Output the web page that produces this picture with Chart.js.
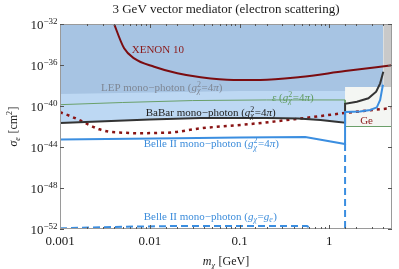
<!DOCTYPE html>
<html>
<head>
<meta charset="utf-8">
<script src="https://cdn.jsdelivr.net/npm/chart.js@4.4.1/dist/chart.umd.min.js"></script>
<style>
  html, body { margin: 0; padding: 0; background: #fff; }
  #wrap { width: 399px; height: 269px; }
</style>
</head>
<body>
<div id="wrap"><canvas id="c"></canvas></div>
<script>
// dark matter mass m_chi [GeV] and cross section sigma_e [cm^2]
const xenonMass  = [0.00385, 0.00518, 0.0067, 0.0112, 0.0203, 0.0369, 0.0858, 0.171, 0.476, 1.5, 5];
const xenonSigma = [2.5e-32, 4.27e-35, 4.47e-36, 6.76e-37, 1.55e-37, 6.31e-38, 3.47e-38, 3.47e-38, 6.76e-38, 2.57e-37, 9.33e-37];

const lepMass  = [0.001, 0.01, 0.1, 1.5, 1.5, 4.0];
const lepSigma = [1.48e-39, 2.09e-39, 2.88e-39, 2.88e-39, 7.08e-39, 7.08e-39];

const grayMass  = [4.0, 5];
const graySigma = [7.08e-39, 7.08e-39];

const babarMass  = [0.001, 0.01, 0.0369, 0.2, 0.45, 0.8, 1.2, 1.5, 1.5, 2.03, 2.73, 3.33, 3.69, 4.0];
const babarSigma = [2.19e-42, 4.79e-42, 6.61e-42, 6.76e-42, 6.03e-42, 4.27e-42, 2.88e-42, 2.34e-42,
                    1.66e-40, 2.63e-40, 5.62e-40, 2.51e-39, 1.62e-38, 2.24e-37];

const epsMass  = [0.001, 0.005, 0.03, 0.2, 1.5, 1.5];
const epsSigma = [1.35e-40, 2.2e-40, 3.4e-40, 3.9e-40, 3.9e-40, 1.6e-40];

const geMass  = [1.5, 5];
const geSigma = [1.0e-42, 1.0e-42];

const dottedMass  = [0.001, 0.00127, 0.00164, 0.00212, 0.00274, 0.00353, 0.00498, 0.0076, 0.0117, 0.0179, 0.0369, 0.132, 0.476, 1.5, 5];
const dottedSigma = [2.45e-41, 1.12e-41, 4.27e-42, 1.41e-42, 5.37e-43, 3.09e-43, 2.51e-43, 2.19e-43, 2.34e-43,
                     2.69e-43, 6.61e-43, 1.74e-42, 6.03e-42, 2.09e-41, 6.31e-41];

const belleMass  = [0.001, 0.02, 0.1, 0.54, 1.5, 1.5, 2.2, 2.86, 3.39, 3.69, 3.9, 3.97];
const belleSigma = [5.37e-44, 7.08e-44, 8.51e-44, 9.55e-44, 1.95e-44, 2.57e-41, 2.9e-41, 4.07e-41, 7.4e-41, 3.9e-40, 5.7e-39, 1.2e-38];

const belleCutMass  = [1.5, 1.5];
const belleCutSigma = [1.95e-44, 1e-53];

const belleGeMass  = [0.001, 0.00514, 0.02, 0.565, 0.643, 0.7];
const belleGeSigma = [1.17e-52, 1.66e-52, 1.95e-52, 1.95e-52, 1.0e-52, 5e-53];

const xTicks = [0.001, 0.01, 0.1, 1];
const xTickLabels = ['0.001', '0.01', '0.1', '1'];
const yTicks = [1e-52, 1e-48, 1e-44, 1e-40, 1e-36, 1e-32];
const yTickExps = ['\u221252', '\u221248', '\u221244', '\u221240', '\u221236', '\u221232'];

const SERIF = '"Liberation Serif", "DejaVu Serif", "Times New Roman", serif';

const pts = (xs, ys) => xs.map((x, i) => ({ x: x, y: ys[i] }));

// label text pieces: t = text, it = italic, sup/sub = small raised/lowered
const gchi = [{ t: 'g', it: true }, { sup: '2', sub: '\u03c7' }, { t: '=4' }, { t: '\u03c0', it: true }, { t: ')' }];
const notes = [
  { x: 0.0063, y: 3.6e-35, color: '#8b1a1a', parts: [{ t: 'XENON 10' }] },
  { x: 0.00286, y: 7.1e-39, color: '#7f8794', parts: [{ t: 'LEP mono\u2212photon (' }].concat(gchi) },
  { x: 0.23, y: 7.6e-40, color: '#5f9a5f', parts: [{ t: '\u03b5', it: true }, { t: ' (' }].concat(gchi) },
  { x: 0.00903, y: 2.6e-41, color: '#222222', parts: [{ t: 'BaBar mono\u2212photon (' }].concat(gchi) },
  { x: 0.00857, y: 2.3e-44, color: '#3d8ddb', parts: [{ t: 'Belle II mono\u2212photon (' }].concat(gchi) },
  { x: 0.00857, y: 1.86e-51, color: '#3d8ddb', parts: [{ t: 'Belle II mono\u2212photon (' }, { t: 'g', it: true }, { sub: '\u03c7' },
      { t: '=' }, { t: 'g', it: true }, { sub: 'e' }, { t: ')' }] },
  { x: 2.21, y: 4.3e-42, color: '#8b1a1a', parts: [{ t: 'Ge' }] }
];

function font(size, it) {
  return (it ? 'italic ' : '') + size + 'px ' + SERIF;
}

function richWidth(ctx, parts, size) {
  let w = 0;
  const small = Math.round(size * 0.7);
  parts.forEach(p => {
    if (p.t !== undefined) { ctx.font = font(size, p.it); w += ctx.measureText(p.t).width; }
    else {
      let a = 0, b = 0;
      if (p.sup) { ctx.font = font(small, false); a = ctx.measureText(p.sup).width; }
      if (p.sub) { ctx.font = font(small, true); b = ctx.measureText(p.sub).width; }
      w += Math.max(a, b) + 0.5;
    }
  });
  return w;
}

function drawRich(ctx, parts, x, base, size, color, align) {
  const small = Math.round(size * 0.7);
  const w = richWidth(ctx, parts, size);
  let cx = align === 'center' ? x - w / 2 : align === 'right' ? x - w : x;
  ctx.fillStyle = color;
  ctx.textAlign = 'left';
  ctx.textBaseline = 'alphabetic';
  parts.forEach(p => {
    if (p.t !== undefined) {
      ctx.font = font(size, p.it);
      ctx.fillText(p.t, cx, base);
      cx += ctx.measureText(p.t).width;
    } else {
      let a = 0, b = 0;
      if (p.sup) {
        ctx.font = font(small, false);
        ctx.fillText(p.sup, cx, base - size * 0.38);
        a = ctx.measureText(p.sup).width;
      }
      if (p.sub) {
        ctx.font = font(small, true);
        ctx.fillText(p.sub, cx, base + size * 0.22);
        b = ctx.measureText(p.sub).width;
      }
      cx += Math.max(a, b) + 0.5;
    }
  });
}

const decor = {
  id: 'decor',
  afterDraw(chart) {
    const ctx = chart.ctx;
    const a = chart.chartArea;
    const xs = chart.scales.x, ys = chart.scales.y;
    ctx.save();

    // frame
    ctx.strokeStyle = '#9a9a9a';
    ctx.lineWidth = 1;
    ctx.strokeRect(Math.round(a.left) + 0.5, Math.round(a.top) + 0.5,
                   Math.round(a.right - a.left) - 1, Math.round(a.bottom - a.top) - 1);

    // inward ticks
    ctx.strokeStyle = '#555';
    ctx.beginPath();
    xs.ticks.forEach(t => {
      const px = Math.round(xs.getPixelForValue(t.value)) + 0.5;
      if (px <= a.left + 1 || px >= a.right - 1) return;
      const major = xTicks.some(v => Math.abs(v - t.value) < v * 1e-6);
      const len = major ? 4 : 2;
      ctx.moveTo(px, a.bottom); ctx.lineTo(px, a.bottom - len);
      ctx.moveTo(px, a.top); ctx.lineTo(px, a.top + len);
    });
    yTicks.forEach(v => {
      const py = Math.round(ys.getPixelForValue(v)) + 0.5;
      ctx.moveTo(a.left, py); ctx.lineTo(a.left + 4, py);
      ctx.moveTo(a.right, py); ctx.lineTo(a.right - 4, py);
    });
    ctx.stroke();

    // y tick labels 10^n
    yTicks.forEach((v, i) => {
      const py = ys.getPixelForValue(v);
      drawRich(ctx, [{ t: '10' }, { sup: yTickExps[i] }], a.left - 2, py + 4.5, 13, '#1a1a1a', 'right');
    });

    // annotations
    notes.forEach(n => {
      const px = xs.getPixelForValue(n.x);
      const py = ys.getPixelForValue(n.y);
      drawRich(ctx, n.parts, px, py + 4, 11, n.color, 'left');
    });

    // title
    const cx = (a.left + a.right) / 2;
    drawRich(ctx, [{ t: '3 GeV vector mediator (electron scattering)' }], cx, 13, 13, '#1a1a1a', 'center');

    // x title
    drawRich(ctx, [{ t: 'm', it: true }, { sub: '\u03c7' }, { t: ' [GeV]' }], cx, 265, 12, '#1a1a1a', 'center');

    // y title
    ctx.translate(17, (a.top + a.bottom) / 2);
    ctx.rotate(-Math.PI / 2);
    drawRich(ctx, [{ t: '\u03c3', it: true }, { sub: 'e' }, { t: ' [cm' }, { sup: '2' }, { t: ']' }], 0, 0, 12, '#1a1a1a', 'center');

    ctx.restore();
  }
};

const area = (xs, ys, color, order) => ({
  data: pts(xs, ys), borderWidth: 0, backgroundColor: color, fill: 'end',
  pointRadius: 0, tension: 0, order: order
});
const curve = (xs, ys, color, width, order, extra) => Object.assign({
  data: pts(xs, ys), borderColor: color, borderWidth: width, fill: false,
  pointRadius: 0, tension: 0, order: order
}, extra || {});

new Chart(document.getElementById('c'), {
  type: 'line',
  data: {
    datasets: [
      area(geMass, geSigma, '#f4f6f3', 20),
      area(babarMass.slice(0, 8), babarSigma.slice(0, 8), '#bdd8f3', 19),
      area(lepMass, lepSigma, '#a7c4e3', 18),
      area(grayMass, graySigma, '#c9c9c9', 17),
      curve(epsMass, epsSigma, '#6aa06a', 1, 10),
      curve(geMass, geSigma, '#6aa06a', 1, 10),
      curve(dottedMass, dottedSigma, '#8a1414', 2.5, 8, { borderDash: [3, 4], cubicInterpolationMode: 'monotone' }),
      curve(xenonMass, xenonSigma, '#7b0c10', 2, 7, { cubicInterpolationMode: 'monotone' }),
      curve(babarMass, babarSigma, '#333333', 2, 6),
      curve(belleCutMass, belleCutSigma, '#3b8ee0', 2, 5, { borderDash: [7, 4] }),
      curve(belleGeMass, belleGeSigma, '#3b8ee0', 2, 5, { borderDash: [7, 4] }),
      curve(belleMass, belleSigma, '#3b8ee0', 2, 4)
    ]
  },
  options: {
    responsive: true,
    maintainAspectRatio: false,
    animation: false,
    devicePixelRatio: 1,
    layout: { padding: { top: 24, right: 7, left: 0, bottom: 0 } },
    plugins: { legend: { display: false }, tooltip: { enabled: false }, title: { display: false } },
    scales: {
      x: {
        type: 'logarithmic', min: 0.001, max: 5,
        grid: { display: false, drawTicks: false }, border: { display: false },
        afterFit: s => { s.height = 40; },
        ticks: {
          autoSkip: false, maxRotation: 0, padding: 5, color: '#1a1a1a',
          font: { family: SERIF, size: 13 },
          callback: v => {
            const i = xTicks.findIndex(t => Math.abs(t - v) < t * 1e-6);
            return i >= 0 ? xTickLabels[i] : '';
          }
        }
      },
      y: {
        type: 'logarithmic', min: 1e-52, max: 1e-32,
        grid: { display: false, drawTicks: false }, border: { display: false },
        ticks: { display: false },
        afterFit: s => { s.width = 60; }
      }
    }
  },
  plugins: [decor]
});
</script>
</body>
</html>
